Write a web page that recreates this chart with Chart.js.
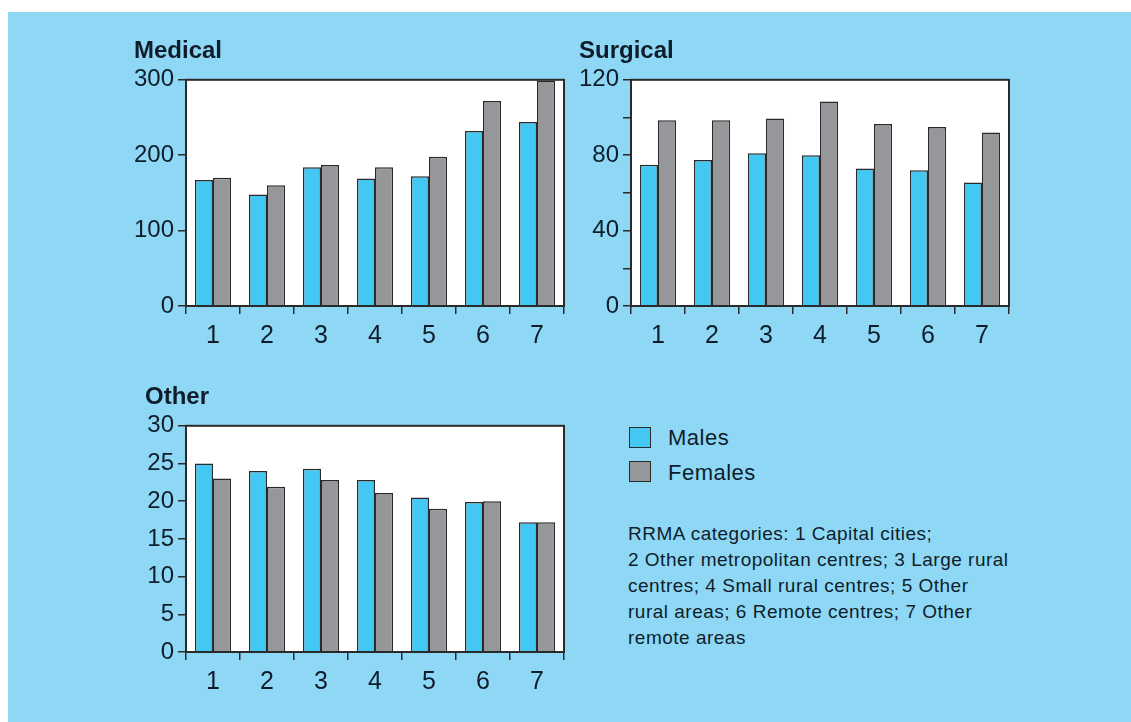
<!DOCTYPE html>
<html>
<head>
<meta charset="utf-8">
<script src="https://cdn.jsdelivr.net/npm/chart.js@4.4.1/dist/chart.umd.min.js"></script>
<style>
    html, body { margin: 0; padding: 0; background: #ffffff; }
    body { width: 1131px; height: 722px; position: relative; overflow: hidden; font-family: "Liberation Sans", Arial, sans-serif; color: #0f1d2b; }
    #panel { position: absolute; left: 8px; top: 12px; width: 1123px; height: 710px; background: #8ed8f6; }
    canvas { position: absolute; }
    .key { position: absolute; left: 629px; width: 20px; height: 19px; border: 1.5px solid #2a2a2a; }
    .keyText { position: absolute; left: 668px; font-size: 22px; line-height: 24px; letter-spacing: 0.5px; }
    #note { position: absolute; left: 628px; top: 521px; font-size: 19px; line-height: 26px; letter-spacing: 0.5px; }
</style>
</head>
<body>
<div id="panel"></div>
<canvas id="medical" width="441" height="330" style="left:134px; top:30px;"></canvas>
<canvas id="surgical" width="441" height="330" style="left:579px; top:30px;"></canvas>
<canvas id="other" width="430" height="330" style="left:145px; top:376px;"></canvas>

<div class="key" style="top:427px; background:#42c8f2;"></div>
<div class="keyText" style="top:426px;">Males</div>
<div class="key" style="top:461px; background:#96979b;"></div>
<div class="keyText" style="top:461px;">Females</div>
<div id="note">RRMA categories: 1 Capital cities;<br>2 Other metropolitan centres; 3 Large rural<br>centres; 4 Small rural centres; 5 Other<br>rural areas; 6 Remote centres; 7 Other<br>remote areas</div>

<script>
/* --------------- Data --------------------- */
const categories = ["1", "2", "3", "4", "5", "6", "7"];

const medicalMales = [167, 148, 184, 169, 172, 232, 244];
const medicalFemales = [170, 160, 187, 184, 198, 272, 299];

const surgicalMales = [75, 77.5, 81, 80, 73, 72, 65.5];
const surgicalFemales = [98.5, 98.5, 99.5, 108.5, 96.5, 95, 92];

const otherMales = [25, 24, 24.3, 22.8, 20.5, 19.9, 17.2];
const otherFemales = [23, 21.9, 22.8, 21.1, 19, 20, 17.2];

/* --------------- Styles --------------------- */
const maleColor = "#42c8f2";
const femaleColor = "#96979b";
const edgeColor = "#2a2a2a";
const inkColor = "#0f1d2b";
const fontFamily = "'Liberation Sans', Arial, sans-serif";

/* --------------- White plot box with frame --------------------- */
const frame = {
    id: "frame",
    beforeDraw(chart) {
        const a = chart.chartArea;
        const ctx = chart.ctx;
        ctx.save();
        ctx.fillStyle = "#ffffff";
        ctx.fillRect(a.left, a.top, a.right - a.left, a.bottom - a.top);
        ctx.restore();
    },
    afterDraw(chart) {
        const a = chart.chartArea;
        const ctx = chart.ctx;
        ctx.save();
        ctx.strokeStyle = edgeColor;
        ctx.lineWidth = 2;
        ctx.strokeRect(a.left, a.top, a.right - a.left, a.bottom - a.top);
        ctx.restore();
    },
};

/* --------------- One panel --------------------- */
const makeChart = (id, title, males, females, yMax, step, labelStep, yWidth) => {
    return new Chart(document.getElementById(id), {
        type: "bar",
        plugins: [frame],
        data: {
            labels: categories,
            datasets: [
                { label: "Males", data: males, backgroundColor: maleColor, borderColor: edgeColor, borderWidth: 1.5 },
                { label: "Females", data: females, backgroundColor: femaleColor, borderColor: edgeColor, borderWidth: 1.5 },
            ],
        },
        options: {
            responsive: false,
            animation: false,
            layout: { padding: { left: 0, right: 11, top: 0, bottom: 14 } },
            datasets: { bar: { categoryPercentage: 0.67, barPercentage: 1.0 } },
            plugins: {
                legend: { display: false },
                tooltip: { enabled: false },
                title: {
                    display: true,
                    text: title,
                    align: "start",
                    color: inkColor,
                    font: { family: fontFamily, size: 24, weight: "bold" },
                    padding: { top: 7, bottom: 14 },
                },
            },
            scales: {
                x: {
                    afterFit: (s) => { s.height = 40; },
                    ticks: { color: inkColor, font: { family: fontFamily, size: 25 }, padding: 7 },
                    grid: { offset: true, drawOnChartArea: false, tickLength: 8, color: edgeColor, lineWidth: 1.5 },
                    border: { color: edgeColor, width: 2 },
                },
                y: {
                    min: 0,
                    max: yMax,
                    afterFit: (s) => { s.width = yWidth; },
                    ticks: {
                        stepSize: step,
                        color: inkColor,
                        font: { family: fontFamily, size: 24 },
                        padding: 4,
                        callback: (v) => (v % labelStep === 0 ? v : ""),
                    },
                    grid: { drawOnChartArea: false, tickLength: 8, color: edgeColor, lineWidth: 1.5 },
                    border: { color: edgeColor, width: 2 },
                },
            },
        },
    });
};

makeChart("medical", "Medical", medicalMales, medicalFemales, 300, 100, 100, 52);
makeChart("surgical", "Surgical", surgicalMales, surgicalFemales, 120, 20, 40, 52);
makeChart("other", "Other", otherMales, otherFemales, 30, 5, 5, 41);
</script>
</body>
</html>
